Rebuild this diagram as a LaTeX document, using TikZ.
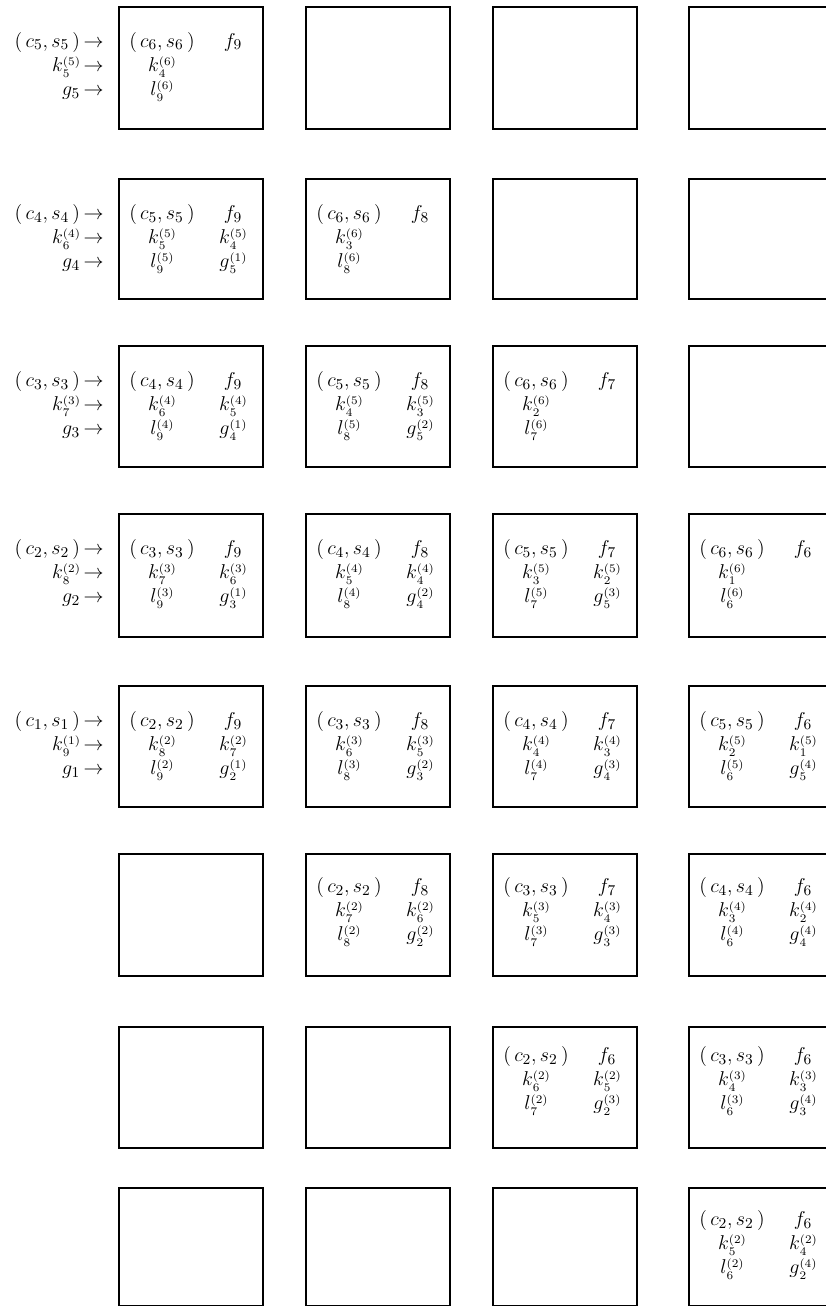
\documentclass[tikz,border=0pt]{standalone}
\usetikzlibrary{calc}
\newcommand\ssc[1]{{\fontsize{7.3}{8}\selectfont$#1$}}
\newcommand\supsub[3]{$#1$\rlap{\raisebox{-3.7pt}{\ssc{#3}}}\raisebox{3.4pt}{\ssc{(#2)}}}
\newcommand\Kx[2]{\supsub{k}{#2}{#1}}
\newcommand\Lx[2]{\supsub{l}{#2}{#1}}
\newcommand\Gx[2]{\supsub{g}{#2}{#1}}
\newcommand\mycs[1]{$(\,c_{#1}, s_{#1}\,)$}
\newcommand\fv[1]{$f_{#1}$}
\def\dy{0}
\newcommand\cellfull[7]{%
 \node[txt] (#1cs) at ($(#1.north west)+(44,41+\dy)$) {#2};
 \node[txt] (#1f)  at ($(#1.north west)+(115,41+\dy)$) {#3};
 \node[txt] (#1k)  at ($(#1.north west)+(44,65+\dy)$) {#4};
 \node[txt] (#1kk) at ($(#1.north west)+(115,65+\dy)$) {#5};
 \node[txt] (#1l)  at ($(#1.north west)+(44,89+\dy)$) {#6};
 \node[txt] (#1g)  at ($(#1.north west)+(115,89+\dy)$) {#7};}
\newcommand\celldiag[5]{%
 \node[txt] (#1cs) at ($(#1.north west)+(44,41+\dy)$) {#2};
 \node[txt] (#1f)  at ($(#1.north west)+(115,41+\dy)$) {#3};
 \node[txt] (#1k)  at ($(#1.north west)+(44,65+\dy)$) {#4};
 \node[txt] (#1l)  at ($(#1.north west)+(44,89+\dy)$) {#5};}
\newcommand\inlabels[4]{%
 \node[lbl] (#1a) at ($(#1.north west)+(-14,41)$) {#2\,$\rightarrow$};
 \node[lbl] (#1b) at ($(#1.north west)+(-14,65)$) {#3\,$\rightarrow$};
 \node[lbl] (#1c) at ($(#1.north west)+(-14,89)$) {#4\,$\rightarrow$};}
\begin{document}
\begin{tikzpicture}[x=0.6pt,y=-0.6pt,
  cell/.style={draw, line width=0.9pt, anchor=north west, inner sep=0pt, minimum width=86.4pt},
  txt/.style={anchor=base, inner sep=0pt, font=\fontsize{13}{15}\selectfont},
  lbl/.style={anchor=base east, inner sep=0pt, font=\fontsize{13}{15}\selectfont}]
\useasboundingbox (0,0) rectangle (825,1306);
% boxes: columns 118, 305, 492, 688; rows tops and heights
\foreach \r/\t/\h in {1/6/122, 2/178/120, 3/345/121, 4/513/123, 5/685/121, 6/853/122, 7/1026/121, 8/1187/118}{
  \foreach \c/\l in {1/118, 2/305, 3/492, 4/688}{
    \node[cell, minimum height=\h*0.6pt] (b\r\c) at (\l,\t) {};
  }
}
% row 1
\celldiag{b11}{\mycs6}{\fv9}{\Kx46}{\Lx96}
\inlabels{b11}{\mycs5}{\Kx55}{$g_5$}
% row 2
\cellfull{b21}{\mycs5}{\fv9}{\Kx55}{\Kx45}{\Lx95}{\Gx51}
\celldiag{b22}{\mycs6}{\fv8}{\Kx36}{\Lx86}
\inlabels{b21}{\mycs4}{\Kx64}{$g_4$}
% row 3
\cellfull{b31}{\mycs4}{\fv9}{\Kx64}{\Kx54}{\Lx94}{\Gx41}
\cellfull{b32}{\mycs5}{\fv8}{\Kx45}{\Kx35}{\Lx85}{\Gx52}
\celldiag{b33}{\mycs6}{\fv7}{\Kx26}{\Lx76}
\inlabels{b31}{\mycs3}{\Kx73}{$g_3$}
% row 4
\cellfull{b41}{\mycs3}{\fv9}{\Kx73}{\Kx63}{\Lx93}{\Gx31}
\cellfull{b42}{\mycs4}{\fv8}{\Kx54}{\Kx44}{\Lx84}{\Gx42}
\cellfull{b43}{\mycs5}{\fv7}{\Kx35}{\Kx25}{\Lx75}{\Gx53}
\celldiag{b44}{\mycs6}{\fv6}{\Kx16}{\Lx66}
\inlabels{b41}{\mycs2}{\Kx82}{$g_2$}
% row 5
\cellfull{b51}{\mycs2}{\fv9}{\Kx82}{\Kx72}{\Lx92}{\Gx21}
\cellfull{b52}{\mycs3}{\fv8}{\Kx63}{\Kx53}{\Lx83}{\Gx32}
\cellfull{b53}{\mycs4}{\fv7}{\Kx44}{\Kx34}{\Lx74}{\Gx43}
\cellfull{b54}{\mycs5}{\fv6}{\Kx25}{\Kx15}{\Lx65}{\Gx54}
\inlabels{b51}{\mycs1}{\Kx91}{$g_1$}
% row 6
\def\dy{-2}
\cellfull{b62}{\mycs2}{\fv8}{\Kx72}{\Kx62}{\Lx82}{\Gx22}
\cellfull{b63}{\mycs3}{\fv7}{\Kx53}{\Kx43}{\Lx73}{\Gx33}
\cellfull{b64}{\mycs4}{\fv6}{\Kx34}{\Kx24}{\Lx64}{\Gx44}
% row 7
\def\dy{-6}
\cellfull{b73}{\mycs2}{\fv6}{\Kx62}{\Kx52}{\Lx72}{\Gx23}
\cellfull{b74}{\mycs3}{\fv6}{\Kx43}{\Kx33}{\Lx63}{\Gx34}
% row 8
\def\dy{-3}
\cellfull{b84}{\mycs2}{\fv6}{\Kx52}{\Kx42}{\Lx62}{\Gx24}
\end{tikzpicture}
\end{document}
